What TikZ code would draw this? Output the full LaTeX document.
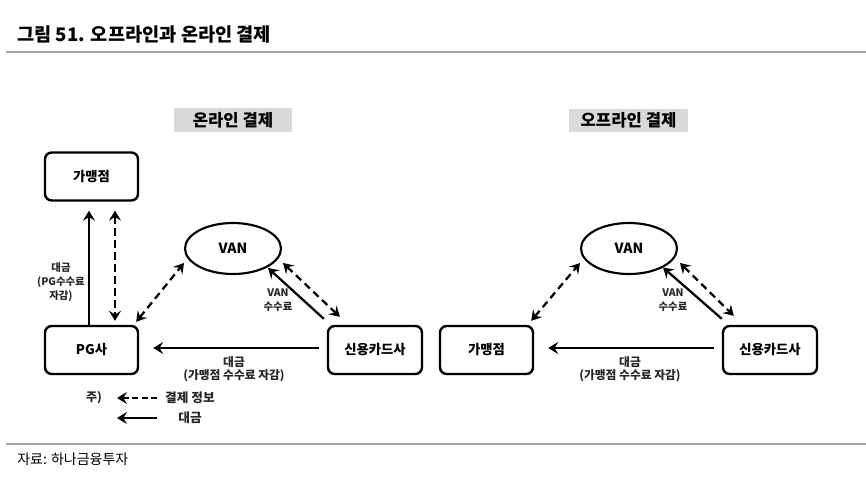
\documentclass[tikz,border=0pt]{standalone}
\usepackage{fontspec}
\setmainfont{Noto Sans CJK KR}
\usetikzlibrary{arrows.meta,calc,shapes.geometric}
\definecolor{rulegray}{HTML}{A6A6A6}
\definecolor{headfill}{HTML}{D9D9D9}
\definecolor{labtxt}{HTML}{262626}
\begin{document}
\begin{tikzpicture}[x=0.75pt,y=-0.75pt,
  box/.style={draw,line width=1.8pt,rounded corners=5pt,minimum width=69.75pt,minimum height=36pt,inner sep=0pt,font=\fontsize{10}{12}\selectfont\bfseries},
  vanshape/.style={draw,ellipse,line width=1.6pt,minimum width=72pt,minimum height=38.25pt,inner sep=0pt,font=\fontsize{10.5}{12}\selectfont\bfseries},
  headbox/.style={fill=headfill,minimum width=88.5pt,minimum height=17.5pt,inner sep=0pt,font=\fontsize{12.5}{14}\selectfont\bfseries},
  lab/.style={align=center,text=labtxt,inner sep=0pt,font=\fontsize{7.8}{10.5}\selectfont\bfseries},
  tip/.style={},
  money/.style={line width=1.7pt,-{Stealth[length=7.5pt,width=9pt,inset=2.8pt]}},
  info/.style={line width=1.7pt,dash pattern=on 5.5pt off 3.5pt,{Stealth[length=7.5pt,width=9pt,inset=2.8pt]}-{Stealth[length=7.5pt,width=9pt,inset=2.8pt]}},
  infoone/.style={line width=1.7pt,dash pattern=on 4.5pt off 2.5pt,-{Stealth[length=7.5pt,width=9pt,inset=2.8pt]}}
]
\useasboundingbox (0,0) rectangle (866,481);
% title and rules
\node[anchor=west,inner sep=0pt,font=\fontsize{14}{16}\selectfont\bfseries] (title) at (17,35) {그림 51. 오프라인과 온라인 결제};
\coordinate (r1a) at (6,52); \coordinate (r1b) at (866,52);
\draw[rulegray,line width=1.6pt] (r1a) -- (r1b);
\coordinate (r2a) at (6,444); \coordinate (r2b) at (866,444);
\draw[rulegray,line width=1.2pt] (r2a) -- (r2b);
\node[anchor=west,inner sep=0pt,font=\fontsize{10.5}{12}\selectfont] (src) at (17,459) {자료: 하나금융투자};

% ===== left panel: online =====
\node[headbox] (hL) at (233,120) {온라인 결제};
\node[box] (merL) at (91.5,176.5) {가맹점};
\node[box] (pg) at (91.5,350) {PG사};
\node[box,minimum width=70.5pt] (cardL) at (375,350) {신용카드사};
\node[vanshape] (vanL) at (233,248.5) {VAN};

\draw[money] ($(pg.north)+(-2.5,0)$) -- ($(merL.south)+(-2.5,9)$);
\draw[info] ($(merL.south)+(23.5,9)$) -- ($(pg.north)+(23.5,-4)$);
\node[lab] (labPG) at (61,282) {대금\\(PG수수료\\자감)};
\draw[info] ($(pg.north east)+(-3,-3)$) -- ($(vanL.center)+(-49,14.5)$);
\draw[money] ($(cardL.north west)+(-3,-6)$) -- ($(vanL.center)+(35,19.5)$);
\draw[info] ($(vanL.center)+(50,14.5)$) -- ($(cardL.north west)+(13,-8)$);
\node[lab] (labVL) at (278,300) {VAN\\수수료};
\draw[money] ($(cardL.west)+(-8,-2)$) -- ($(pg.east)+(14,-2)$);
\node[lab,font=\fontsize{8.8}{10}\selectfont\bfseries] (labDL) at (234,369.5) {대금\\(가맹점 수수료 자감)};

% legend
\node[lab,font=\fontsize{9}{10}\selectfont\bfseries] (lgn) at (94,398) {주)};
\coordinate (lg1s) at (157,398); \coordinate (lg1e) at (117,398);
\draw[infoone] (lg1s) -- (lg1e);
\node[lab,font=\fontsize{9.5}{10}\selectfont\bfseries] (lgt1) at (190,398) {결제 정보};
\coordinate (lg2s) at (157,418); \coordinate (lg2e) at (117,418);
\draw[money,line width=2pt] (lg2s) -- (lg2e);
\node[lab,font=\fontsize{9.5}{10}\selectfont\bfseries] (lgt2) at (190,418) {대금};

% ===== right panel: offline =====
\node[headbox,minimum width=89.25pt] (hR) at (628.5,120.5) {오프라인 결제};
\node[box] (merR) at (486.5,350) {가맹점};
\node[box,minimum width=70.5pt] (cardR) at (770,350) {신용카드사};
\node[vanshape] (vanR) at (629,248.5) {VAN};

\draw[info] ($(merR.north east)+(-3,-4)$) -- ($(vanR.center)+(-49,14.5)$);
\draw[money] ($(cardR.north west)+(0,-6)$) -- ($(vanR.center)+(34,19)$);
\draw[info] ($(vanR.center)+(51,14.5)$) -- ($(cardR.north west)+(12,-9)$);
\node[lab] (labVR) at (673,300) {VAN\\수수료};
\draw[money] ($(cardR.west)+(-8,-2)$) -- ($(merR.east)+(14,-2)$);
\node[lab,font=\fontsize{8.8}{10}\selectfont\bfseries] (labDR) at (630,369.5) {대금\\(가맹점 수수료 자감)};
\end{tikzpicture}
\end{document}
